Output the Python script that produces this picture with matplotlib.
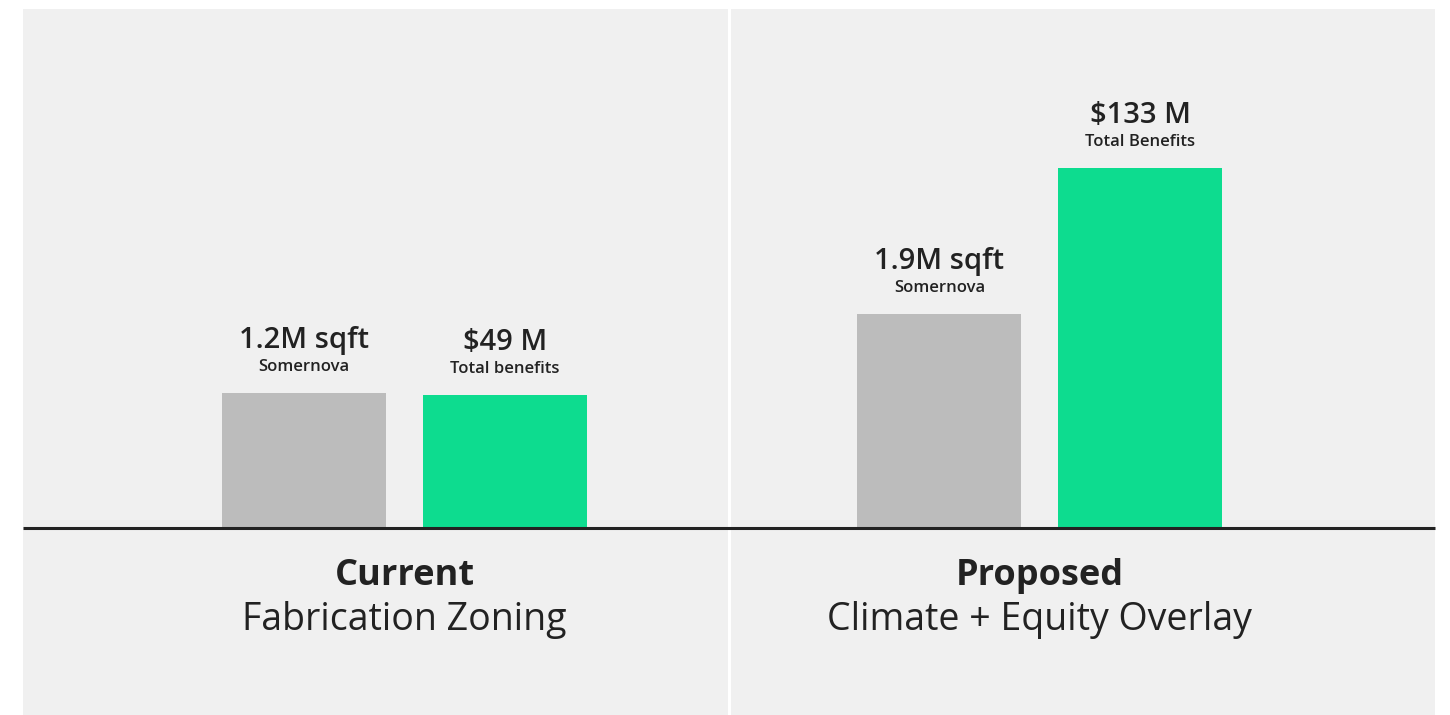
import numpy as np
import matplotlib
matplotlib.use('Agg')
import matplotlib.pyplot as plt
import matplotlib.transforms as mtransforms
from matplotlib.patches import Rectangle
from matplotlib.lines import Line2D

plt.rcParams['font.family'] = ['Open Sans', 'DejaVu Sans']

# data
scenarios = ['Current', 'Proposed']
scenario_desc = ['Fabrication Zoning', 'Climate + Equity Overlay']
sqft_millions = [1.2, 1.9]
sqft_labels = ['1.2M sqft', '1.9M sqft']
sqft_sublabels = ['Somernova', 'Somernova']
benefits_millions = [49, 133]
benefit_labels = [r'\$49 M', r'\$133 M']
benefit_sublabels = ['Total benefits', 'Total Benefits']

GRAY = '#bcbcbc'
GREEN = '#0ddc8f'
PANEL = '#f0f0f0'
TEXT = '#222222'

W, H = 1450, 715
fig = plt.figure(figsize=(W / 100, H / 100), dpi=100)
fig.patch.set_facecolor('white')

# panels in pixels: (left, right)
panels = [(23, 728), (731, 1435)]
top_px, base_px = 9, 528
# gray bar center offset from panel left, in bar pitch units
left_offsets = [1.398, 1.037]
pitch = 201.0
width = 164 / pitch

fy = lambda py: (H - py) / H

for i, (x0, x1) in enumerate(panels):
    fig.add_artist(Rectangle((x0 / W, 0), (x1 - x0) / W, fy(top_px),
                             transform=fig.transFigure, facecolor=PANEL,
                             edgecolor='none', zorder=0))
    ax = fig.add_axes([x0 / W, fy(base_px), (x1 - x0) / W, fy(top_px) - fy(base_px)])
    ax2 = ax.twinx()
    for a in (ax, ax2):
        a.set_facecolor('none')
        for s in a.spines.values():
            s.set_visible(False)
        a.set_xticks([])
        a.set_yticks([])
        a.set_xlim(-left_offsets[i], -left_offsets[i] + (x1 - x0) / pitch)
    ax.set_ylim(0, 4.613)
    ax2.set_ylim(0, 191.5)

    ax.bar(0, sqft_millions[i], width=width, color=GRAY)
    ax2.bar(1, benefits_millions[i], width=width, color=GREEN)

    for a, xpos, val, lab, sub in [(ax, 0, sqft_millions[i], sqft_labels[i], sqft_sublabels[i]),
                                   (ax2, 1, benefits_millions[i], benefit_labels[i], benefit_sublabels[i])]:
        a.annotate(lab, xy=(xpos, val), xytext=(0, 32.4), textcoords='offset points',
                   ha='center', va='baseline', fontsize=21, fontweight='semibold', color=TEXT)
        a.annotate(sub, xy=(xpos, val), xytext=(0, 15.8), textcoords='offset points',
                   ha='center', va='baseline', fontsize=12, fontweight='semibold', color=TEXT)

    trans = mtransforms.blended_transform_factory(ax.transData, fig.transFigure)
    ax.text(0.5, fy(585), scenarios[i], transform=trans, ha='center', va='baseline',
            fontsize=26, fontweight='bold', color=TEXT)
    ax.text(0.5, fy(630), scenario_desc[i], transform=trans, ha='center', va='baseline',
            fontsize=27, color=TEXT)

fig.add_artist(Line2D([23 / W, 1435 / W], [fy(base_px)] * 2, transform=fig.transFigure,
                      color=TEXT, lw=2.2, solid_capstyle='butt', zorder=5))

fig.savefig('out.png', dpi=100, facecolor='white')
